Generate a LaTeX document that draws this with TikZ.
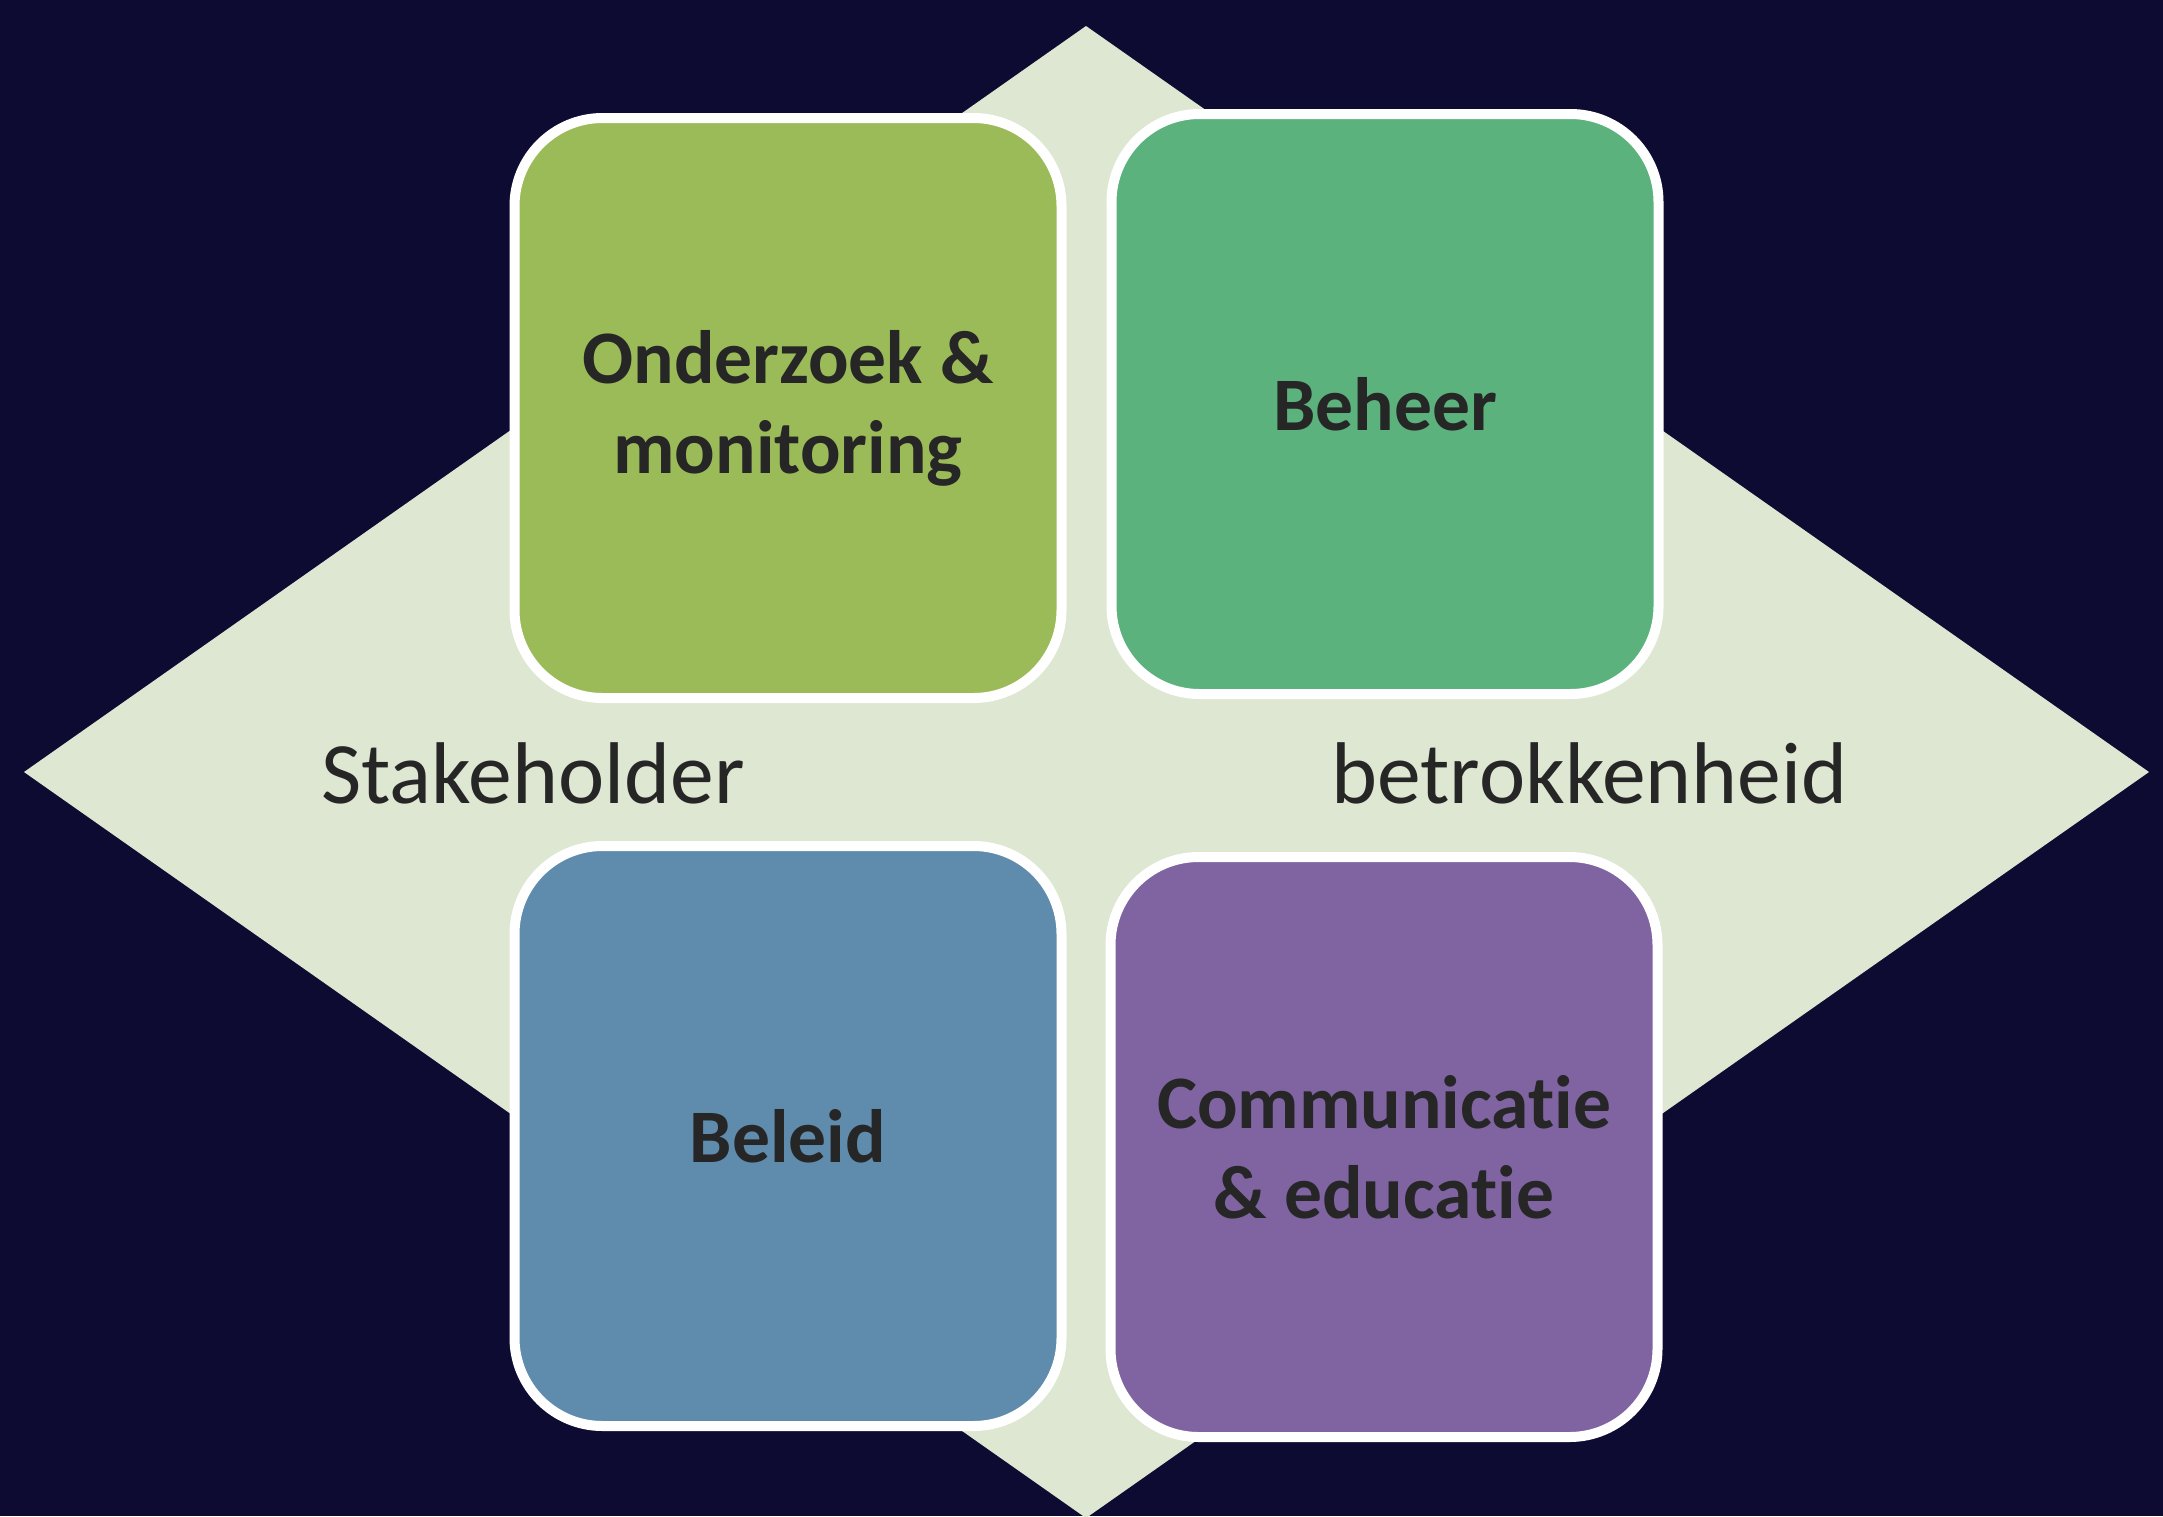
\documentclass[tikz,border=0pt]{standalone}
\usepackage{fontspec}
\setmainfont{Carlito}[Ligatures=NoCommon]
\usepackage{xcolor}
\usepackage{tikz}
\usetikzlibrary{positioning}

\definecolor{nightblue}{HTML}{0E0B33}
\definecolor{diamondgreen}{HTML}{DEE7D1}
\definecolor{olivebox}{HTML}{9BBB59}
\definecolor{greenbox}{HTML}{5BB27D}
\definecolor{bluebox}{HTML}{5F8CAD}
\definecolor{purplebox}{HTML}{8064A2}
\definecolor{darktext}{HTML}{262626}

\begin{document}
\begin{tikzpicture}[
    x=0.5pt, y=-0.5pt,
    field/.style={draw=white, line width=5pt, rounded corners=44pt, minimum width=273.5pt, minimum height=290pt, align=center, text=darktext, font=\fontsize{37.8}{45}\selectfont\bfseries},
    axislabel/.style={anchor=base west, inner sep=0pt, text=darktext, font=\fontsize{43.8}{52}\selectfont}
]

% Background
\useasboundingbox (0,0) rectangle (2163,1516);
\fill[nightblue] (0,0) rectangle (2163,1516);

% Diamond
\fill[diamondgreen] (1086,26) -- (2149,772) -- (1086,1518) -- (24,772) -- cycle;

% Axis text
\node (stake) [axislabel] at (321,803) {Stakeholder};
\node (betrok) [axislabel] at (1331,803) {betrokkenheid};

% Fields
\node (research) [field, fill=olivebox] at (788,408) {Onderzoek \&\\monitoring};
\node (manage) [field, fill=greenbox] at (1385,404) {Beheer};
\node (policy) [field, fill=bluebox] at (788,1136) {Beleid};
\node (educate) [field, fill=purplebox] at (1384,1147) {Communicatie\\\& educatie};

\end{tikzpicture}
\end{document}
